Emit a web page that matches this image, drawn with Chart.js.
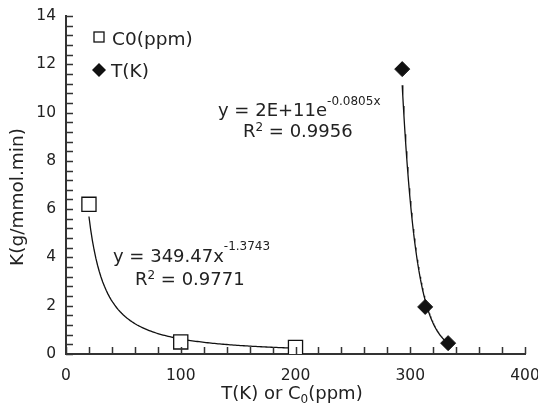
<!DOCTYPE html>
<html>
<head>
<meta charset="utf-8">
<script src="https://cdn.jsdelivr.net/npm/chart.js@4"></script>
<style>
  html, body { margin: 0; padding: 0; background: #fff; }
  #wrap { width: 538px; height: 409px; }
</style>
</head>
<body>
<div id="wrap"><canvas id="kChart" width="538" height="409"></canvas></div>
<script>
// rate constant vs initial concentration
const c0Ppm = [20, 100, 200];
const c0Rate = [6.2, 0.5, 0.27];

// rate constant vs temperature
const tempK = [293, 313, 333];
const tempRate = [11.8, 1.95, 0.45];

// trendline coefficients: y = a*x^b and y = a*e^(b*x)
const powerFit = [349.47, -1.3743];
const expFit = [1.95e11, -0.0805];

const xTicks = [0, 100, 200, 300, 400];
const yTicks = [0, 2, 4, 6, 8, 10, 12, 14];

const FONT = '"DejaVu Sans", sans-serif';
const INK = '#222';
const AXIS = '#333';

function toPoints(xs, ys) {
  return xs.map((x, i) => ({ x: x, y: ys[i] }));
}

// sample a fitted curve between the first and last measured x
function curve(fn, xs, n) {
  const lo = Math.min(...xs), hi = Math.max(...xs);
  const pts = [];
  for (let i = 0; i <= n; i++) {
    const x = lo + (hi - lo) * i / n;
    pts.push({ x: x, y: fn(x) });
  }
  return pts;
}

const powerCurve = curve(x => powerFit[0] * Math.pow(x, powerFit[1]), c0Ppm, 120);
const expCurve = curve(x => expFit[0] * Math.exp(expFit[1] * x), tempK, 80);

// text runs: [text, kind, shift]
function drawRuns(ctx, x, y, runs, center) {
  const fontOf = k => (k ? '12px ' : '18px ') + FONT;
  let w = 0;
  runs.forEach(r => { ctx.font = fontOf(r[1]); w += ctx.measureText(r[0]).width; });
  let cx = center ? x - w / 2 : x;
  runs.forEach(r => {
    ctx.font = fontOf(r[1]);
    const dy = r[1] === 'sup' ? -r[2] : r[1] === 'sub' ? r[2] : 0;
    ctx.fillText(r[0], cx, y + dy);
    cx += ctx.measureText(r[0]).width;
  });
}

const decor = {
  id: 'decor',
  afterDraw(chart) {
    const ctx = chart.ctx;
    const xs = chart.scales.x, ys = chart.scales.y;
    const a = chart.chartArea;
    ctx.save();

    // inward tick marks, every 20 on x and 0.4 on y
    ctx.strokeStyle = AXIS;
    ctx.lineWidth = 1.5;
    ctx.beginPath();
    for (let i = 0; i <= 20; i++) {
      const px = Math.round(xs.getPixelForValue(i * 20)) + 0.5;
      ctx.moveTo(px, a.bottom);
      ctx.lineTo(px, a.bottom - 7);
    }
    for (let i = 0; i <= 35; i++) {
      const py = Math.round(ys.getPixelForValue(i * 0.4)) + 0.5;
      ctx.moveTo(a.left, py);
      ctx.lineTo(a.left + 7, py);
    }
    ctx.stroke();

    // legend
    const sets = chart.data.datasets;
    const lx = a.left + 33, ly = a.top + 21;
    ctx.lineWidth = 1.3;
    ctx.strokeStyle = '#111';
    ctx.fillStyle = '#fff';
    ctx.fillRect(lx - 5, ly - 5, 10, 10);
    ctx.strokeRect(lx - 5, ly - 5, 10, 10);
    ctx.fillStyle = '#111';
    ctx.beginPath();
    ctx.moveTo(lx, ly + 33 - 7);
    ctx.lineTo(lx + 7, ly + 33);
    ctx.lineTo(lx, ly + 33 + 7);
    ctx.lineTo(lx - 7, ly + 33);
    ctx.closePath();
    ctx.fill();
    ctx.fillStyle = INK;
    ctx.font = '18.5px ' + FONT;
    ctx.textBaseline = 'alphabetic';
    ctx.fillText(sets[0].label, lx + 13, ly + 8);
    ctx.fillText(sets[1].label, lx + 12, ly + 33 + 7);

    // trendline equations
    drawRuns(ctx, a.left + 152, a.top + 100, [['y = 2E+11e', ''], ['-0.0805x', 'sup', 11]]);
    drawRuns(ctx, a.left + 177, a.top + 121, [['R', ''], ['2', 'sup', 6], [' = 0.9956', '']]);
    drawRuns(ctx, a.left + 47, a.top + 246, [['y = 349.47x', ''], ['-1.3743', 'sup', 12]]);
    drawRuns(ctx, a.left + 69, a.top + 269, [['R', ''], ['2', 'sup', 6], [' = 0.9771', '']]);

    // axis titles
    drawRuns(ctx, a.left + 226, a.bottom + 45, [['T(K) or C', ''], ['0', 'sub', 4], ['(ppm)', '']], true);
    ctx.save();
    ctx.translate(18, a.top + 181);
    ctx.rotate(-Math.PI / 2);
    ctx.font = '18.5px ' + FONT;
    ctx.textAlign = 'center';
    ctx.textBaseline = 'middle';
    ctx.fillText('K(g/mmol.min)', 0, 0);
    ctx.restore();

    ctx.restore();
  }
};

new Chart(document.getElementById('kChart'), {
  type: 'scatter',
  data: {
    datasets: [
      {
        label: 'C0(ppm)',
        data: toPoints(c0Ppm, c0Rate),
        pointStyle: 'rect',
        pointRadius: 10,
        backgroundColor: '#fff',
        borderColor: '#111',
        borderWidth: 1.3
      },
      {
        label: 'T(K)',
        data: toPoints(tempK, tempRate),
        pointStyle: 'rectRot',
        pointRadius: 7.5,
        backgroundColor: '#111',
        borderColor: '#111',
        borderWidth: 1
      },
      {
        label: 'power fit',
        data: powerCurve,
        showLine: true,
        pointRadius: 0,
        borderColor: '#111',
        borderWidth: 1.3
      },
      {
        label: 'exponential fit',
        data: expCurve,
        showLine: true,
        pointRadius: 0,
        borderColor: '#111',
        borderWidth: 1.3
      }
    ]
  },
  options: {
    responsive: false,
    animation: false,
    events: [],
    layout: { padding: { left: 0, top: 16, right: 13, bottom: 0 } },
    plugins: {
      legend: { display: false },
      tooltip: { enabled: false }
    },
    scales: {
      x: {
        type: 'linear',
        min: 0,
        max: 400,
        afterBuildTicks: s => { s.ticks = xTicks.map(v => ({ value: v })); },
        afterFit: s => { s.height = 55; s.paddingRight = 0; },
        grid: { display: false, drawTicks: false },
        border: { display: true, color: AXIS, width: 2 },
        ticks: { color: INK, padding: 13, maxRotation: 0, font: { family: FONT, size: 15.5 } }
      },
      y: {
        type: 'linear',
        min: 0,
        max: 14,
        afterBuildTicks: s => { s.ticks = yTicks.map(v => ({ value: v })); },
        afterFit: s => { s.width = 66; s.paddingTop = 0; },
        grid: { display: false, drawTicks: false },
        border: { display: true, color: AXIS, width: 2 },
        ticks: { color: INK, padding: 10, font: { family: FONT, size: 15.5 } }
      }
    }
  },
  plugins: [decor]
});
</script>
</body>
</html>
